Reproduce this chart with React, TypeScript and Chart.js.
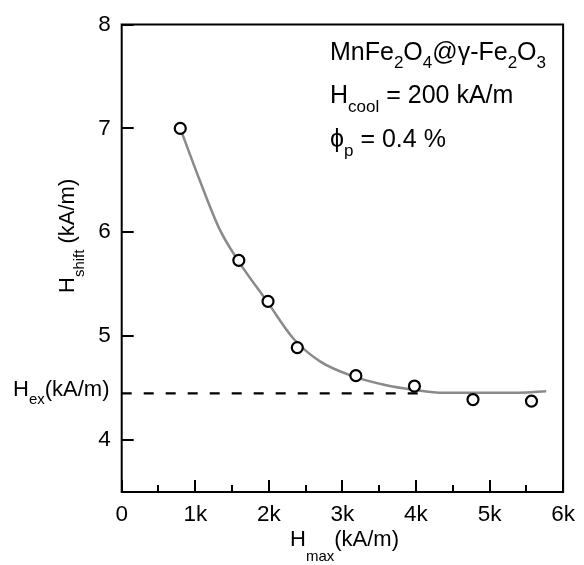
import React, { useEffect, useRef } from 'react';
import { Chart, registerables } from 'chart.js';

Chart.register(...registerables);

// ---- data ----
const hMax = [796, 1592, 1989, 2387, 3183, 3979, 4775, 5570];
const hShift = [7.0, 5.73, 5.335, 4.89, 4.62, 4.52, 4.39, 4.375];

const fitX = [796, 1050, 1330, 1580, 1980, 2330, 2690, 3160, 3580, 3960, 4380, 5000, 5400, 5770];
const fitY = [7.0, 6.52, 6.03, 5.73, 5.33, 4.98, 4.76, 4.61, 4.53, 4.485, 4.455, 4.455, 4.455, 4.47];

const hExValue = 4.45;
const hExLineX = [0, 4050];

const xMajorTicks = [0, 1000, 2000, 3000, 4000, 5000, 6000];
const xMajorLabels = ['0', '1k', '2k', '3k', '4k', '5k', '6k'];
const xMinorTicks = [500, 1500, 2500, 3500, 4500, 5500];
const yMajorTicks = [4, 5, 6, 7, 8];
const yMajorLabels = ['4', '5', '6', '7', '8'];

const FONT = '"Liberation Sans", Arial, sans-serif';

type Part = { t: string; sub?: boolean };
const annotLine1: Part[] = [
  { t: 'MnFe' }, { t: '2', sub: true }, { t: 'O' }, { t: '4', sub: true },
  { t: '@γ-Fe' }, { t: '2', sub: true }, { t: 'O' }, { t: '3', sub: true },
];
const annotLine2: Part[] = [{ t: 'H' }, { t: 'cool', sub: true }, { t: ' = 200 kA/m' }];
const annotLine3: Part[] = [{ t: 'ϕ' }, { t: 'p', sub: true }, { t: ' = 0.4 %' }];
const xTitle: Part[] = [{ t: 'H' }, { t: 'max', sub: true }, { t: '(kA/m)' }];
const yTitle: Part[] = [{ t: 'H' }, { t: 'shift', sub: true }, { t: ' (kA/m)' }];
const hExLabel: Part[] = [{ t: 'H' }, { t: 'ex', sub: true }, { t: '(kA/m)' }];

function drawParts(
  ctx: CanvasRenderingContext2D,
  x: number,
  y: number,
  parts: Part[],
  size: number,
  subSize: number,
  subDy: number
) {
  let cx = x;
  ctx.textAlign = 'left';
  ctx.textBaseline = 'alphabetic';
  for (const p of parts) {
    ctx.font = `${p.sub ? subSize : size}px ${FONT}`;
    ctx.fillText(p.t, cx, y + (p.sub ? subDy : 0));
    cx += ctx.measureText(p.t).width;
  }
}

const decorPlugin = {
  id: 'decor',
  afterDatasetsDraw(chart: any) {
    const { ctx, chartArea, scales } = chart;
    const xs = scales.x;
    const ys = scales.y;
    ctx.save();
    ctx.strokeStyle = '#000';
    ctx.lineWidth = 2;
    ctx.strokeRect(chartArea.left, chartArea.top, chartArea.right - chartArea.left, chartArea.bottom - chartArea.top);
    ctx.beginPath();
    for (const v of xMajorTicks) {
      const px = Math.round(xs.getPixelForValue(v));
      ctx.moveTo(px, chartArea.bottom);
      ctx.lineTo(px, chartArea.bottom - 12);
    }
    for (const v of xMinorTicks) {
      const px = Math.round(xs.getPixelForValue(v));
      ctx.moveTo(px, chartArea.bottom);
      ctx.lineTo(px, chartArea.bottom - 7);
    }
    for (const v of yMajorTicks) {
      const py = Math.round(ys.getPixelForValue(v));
      ctx.moveTo(chartArea.left, py);
      ctx.lineTo(chartArea.left + 12, py);
    }
    ctx.stroke();

    ctx.fillStyle = '#000';
    drawParts(ctx, 330, 60, annotLine1, 25, 17, 8);
    drawParts(ctx, 330, 103, annotLine2, 25, 17, 9);
    drawParts(ctx, 330, 147, annotLine3, 25, 17, 9);

    drawParts(ctx, 290, 546, xTitle, 22, 15, 15);
    drawParts(ctx, 13, 396, hExLabel, 22, 15, 8);

    ctx.translate(74, 293);
    ctx.rotate(-Math.PI / 2);
    drawParts(ctx, 0, 0, yTitle, 22, 15, 10);
    ctx.restore();
  },
};

export default function App() {
  const ref = useRef<HTMLCanvasElement | null>(null);

  useEffect(() => {
    if (!ref.current) return;
    const chart = new Chart(ref.current, {
      type: 'scatter',
      data: {
        datasets: [
          {
            label: 'points',
            data: hMax.map((x, i) => ({ x, y: hShift[i] })),
            showLine: false,
            pointRadius: 5.5,
            pointHoverRadius: 5.5,
            pointBorderWidth: 2.2,
            pointBorderColor: '#000',
            pointBackgroundColor: '#fff',
            order: 0,
          },
          {
            label: 'fit',
            data: fitX.map((x, i) => ({ x, y: fitY[i] })),
            showLine: true,
            borderColor: '#8a8a8a',
            borderWidth: 2.5,
            pointRadius: 0,
            cubicInterpolationMode: 'monotone',
            fill: false,
            order: 1,
          },
          {
            label: 'Hex',
            data: hExLineX.map((x) => ({ x, y: hExValue })),
            showLine: true,
            borderColor: '#000',
            borderWidth: 2.2,
            borderDash: [10, 12],
            pointRadius: 0,
            fill: false,
            order: 2,
          },
        ],
      },
      options: {
        responsive: false,
        animation: false,
        events: [],
        layout: { padding: { left: 0, top: 22.7, right: 14, bottom: 0 } },
        plugins: { legend: { display: false }, tooltip: { enabled: false } },
        scales: {
          x: {
            type: 'linear',
            min: 0,
            max: 6000,
            grid: { display: false, drawTicks: false },
            border: { display: false },
            afterBuildTicks: (scale: any) => {
              scale.ticks = xMajorTicks.map((v) => ({ value: v }));
            },
            afterFit: (scale: any) => {
              scale.height = 73;
            },
            ticks: {
              padding: 9,
              color: '#000',
              font: { family: FONT, size: 22.5 },
              maxRotation: 0,
              autoSkip: false,
              callback: (v: any) => {
                const i = xMajorTicks.indexOf(Number(v));
                return i >= 0 ? xMajorLabels[i] : '';
              },
            },
          },
          y: {
            type: 'linear',
            min: 3.5,
            max: 8,
            grid: { display: false, drawTicks: false },
            border: { display: false },
            afterBuildTicks: (scale: any) => {
              scale.ticks = yMajorTicks.map((v) => ({ value: v }));
            },
            afterFit: (scale: any) => {
              scale.width = 121.7;
            },
            ticks: {
              padding: 11,
              color: '#000',
              font: { family: FONT, size: 22.5 },
              autoSkip: false,
              callback: (v: any) => {
                const i = yMajorTicks.indexOf(Number(v));
                return i >= 0 ? yMajorLabels[i] : '';
              },
            },
          },
        },
      },
      plugins: [decorPlugin],
    });
    return () => chart.destroy();
  }, []);

  return (
    <div style={{ position: 'absolute', left: 0, top: 0, width: 584, height: 565, background: '#fff' }}>
      <canvas ref={ref} width={584} height={565} />
    </div>
  );
}
